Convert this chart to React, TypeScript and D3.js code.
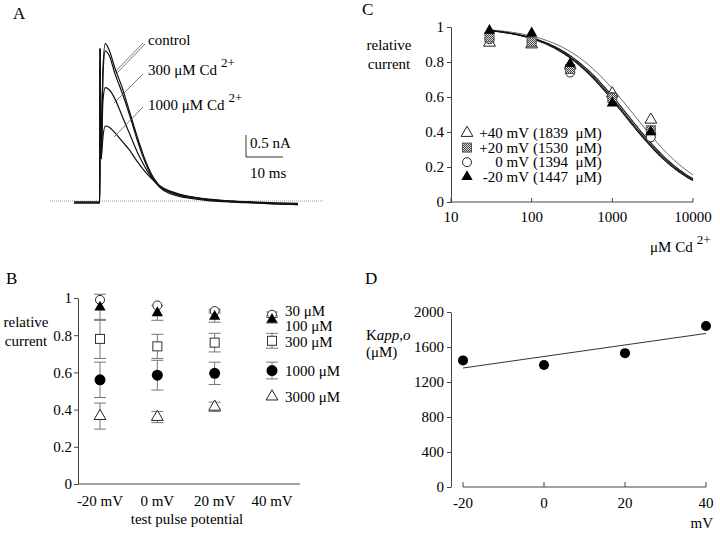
import { useEffect, useRef } from 'react';
import * as d3 from 'd3';

// ---- Panel A: current traces (nA) vs time (ms) after the test pulse ----
const traceTimes = [-7, -0.05, 0, 0.3, 0.8, 1.4, 2.5, 4, 6, 8, 10, 12, 14, 16, 19, 22, 26, 30, 36, 42, 48, 53.5];
const traceControl1 = [0, 0, 3.5, 1.0, 3.0, 3.6, 3.45, 3.05, 2.6, 2.05, 1.5, 1.0, 0.62, 0.38, 0.22, 0.14, 0.09, 0.05, 0.02, 0.0, -0.02, -0.03];
const traceControl2 = [0, 0, 3.5, 1.0, 2.9, 3.45, 3.35, 2.95, 2.5, 2.0, 1.45, 0.97, 0.6, 0.37, 0.21, 0.14, 0.09, 0.05, 0.02, 0.0, -0.02, -0.03];
const traceCd300 = [0, 0, 3.5, 1.0, 2.3, 2.6, 2.55, 2.35, 1.95, 1.55, 1.15, 0.82, 0.55, 0.36, 0.22, 0.15, 0.1, 0.06, 0.02, -0.01, -0.04, -0.06];
const traceCd1000 = [0, 0, 3.5, 1.0, 1.5, 1.75, 1.72, 1.6, 1.4, 1.2, 0.95, 0.73, 0.55, 0.4, 0.27, 0.19, 0.12, 0.07, 0.03, 0.0, -0.02, -0.04];

// ---- Panel B: relative current per test pulse potential ----
const pulseLabels = ['-20 mV', '0 mV', '20 mV', '40 mV'];
const concLabelsB = ['30 μM', '100 μM', '300 μM', '1000 μM', '3000 μM'];
const relB30 = [0.99, 0.96, 0.93, 0.91];
const relB100 = [0.95, 0.92, 0.9, 0.885];
const relB300 = [0.78, 0.74, 0.76, 0.77];
const relB1000 = [0.56, 0.585, 0.595, 0.61];
const relB3000 = [0.365, 0.36, 0.415, 0.47];
const errB30 = [0, 0, 0.01, 0.015];
const errB100 = [0.07, 0.04, 0.03, 0.02];
const errB300 = [0.105, 0.065, 0.05, 0.04];
const errB1000 = [0.095, 0.08, 0.06, 0.045];
const errB3000 = [0.07, 0.03, 0.025, 0];

// ---- Panel C: dose response ----
const cdConc = [30, 100, 300, 1000, 3000];
const relPlus40 = [0.91, 0.9, 0.78, 0.62, 0.47];
const relPlus20 = [0.94, 0.915, 0.76, 0.595, 0.41];
const relZero = [0.93, 0.92, 0.74, 0.6, 0.37];
const relMinus20 = [0.98, 0.965, 0.79, 0.565, 0.4];
const potLabelsC = ['+40 mV', '+20 mV', '0 mV', '-20 mV'];
const kdValues = [1839, 1530, 1394, 1447];
const concTicks = [10, 100, 1000, 10000];

// ---- Panel D: Kapp,o vs voltage ----
const voltagesD = [-20, 0, 20, 40];
const kappD = [1447, 1394, 1530, 1839];
const fitVoltages = [-20, 40];
const fitKapp = [1360, 1755];

const FONT = '"Liberation Serif", "Times New Roman", serif';

type Kind = 'circleOpen' | 'circleFilled' | 'triFilled' | 'triOpen' | 'squareOpen' | 'squareStipple';

function drawMarker(g: any, kind: Kind, x: number, y: number) {
  if (kind === 'circleOpen') {
    g.append('circle').attr('cx', x).attr('cy', y).attr('r', 4.5)
      .attr('fill', '#fff').attr('stroke', '#222').attr('stroke-width', 1);
  } else if (kind === 'circleFilled') {
    g.append('circle').attr('cx', x).attr('cy', y).attr('r', 5.5).attr('fill', '#000');
  } else if (kind === 'triFilled' || kind === 'triOpen') {
    g.append('path')
      .attr('transform', `translate(${x},${y})`)
      .attr('d', d3.symbol().type(d3.symbolTriangle).size(kind === 'triFilled' ? 55 : 60)())
      .attr('fill', kind === 'triFilled' ? '#000' : '#fff')
      .attr('stroke', kind === 'triFilled' ? 'none' : '#222')
      .attr('stroke-width', 1);
  } else {
    g.append('rect').attr('x', x - 4.5).attr('y', y - 4.5).attr('width', 9).attr('height', 9)
      .attr('fill', kind === 'squareStipple' ? 'url(#stipple)' : '#fff')
      .attr('stroke', kind === 'squareStipple' ? '#555' : '#333').attr('stroke-width', 1);
  }
}

function addText(g: any, x: number, y: number, txt: string, size = 15, anchor = 'start') {
  return g.append('text').attr('x', x).attr('y', y).attr('font-size', size)
    .attr('text-anchor', anchor).attr('fill', '#000').text(txt);
}

function withSup(g: any, x: number, y: number, main: string, sup: string, size = 15) {
  const t = g.append('text').attr('x', x).attr('y', y).attr('font-size', size).attr('fill', '#000');
  t.append('tspan').text(main);
  t.append('tspan').attr('dx', 4).attr('dy', -8).attr('font-size', 13).text(sup);
  return t;
}

function styleAxis(g: any) {
  g.attr('font-family', FONT).attr('font-size', 15).attr('color', '#444');
  g.selectAll('text').attr('fill', '#000');
}

export default function App() {
  const svgRef = useRef<SVGSVGElement>(null);

  useEffect(() => {
    if (!svgRef.current) return;
    const svg = d3.select(svgRef.current);
    svg.selectAll('*').remove();
    svg.attr('width', 720).attr('height', 535).style('font-family', FONT);
    svg.append('rect').attr('width', 720).attr('height', 535).attr('fill', '#fff');

    const defs = svg.append('defs');
    const pat = defs.append('pattern').attr('id', 'stipple')
      .attr('width', 2).attr('height', 2).attr('patternUnits', 'userSpaceOnUse');
    pat.append('rect').attr('width', 2).attr('height', 2).attr('fill', '#ddd');
    pat.append('rect').attr('width', 1).attr('height', 1).attr('fill', '#444');
    pat.append('rect').attr('x', 1).attr('y', 1).attr('width', 1).attr('height', 1).attr('fill', '#444');

    // Panel letters
    addText(svg, 13, 19, 'A', 17);
    addText(svg, 362, 15, 'C', 17);
    addText(svg, 6, 284, 'B', 17);
    addText(svg, 365, 284, 'D', 17);

    // ================= Panel A =================
    const gA = svg.append('g');
    const xA = d3.scaleLinear().domain([0, 10]).range([100, 137]);
    const yA = d3.scaleLinear().domain([0, 0.5]).range([202, 180]);

    gA.append('line').attr('x1', 50).attr('x2', 323).attr('y1', yA(0) - 1).attr('y2', yA(0) - 1)
      .attr('stroke', '#888').attr('stroke-width', 0.8).attr('stroke-dasharray', '1,1');

    const traceLine = d3.line<number>()
      .x((_, i) => xA(traceTimes[i]))
      .y((d) => yA(d))
      .curve(d3.curveMonotoneX);

    [traceControl1, traceControl2, traceCd300, traceCd1000].forEach((tr, k) => {
      gA.append('path').attr('d', traceLine(tr)).attr('fill', 'none')
        .attr('stroke', '#111').attr('stroke-width', 1.2)
        .attr('transform', `translate(0,${k % 2 === 0 ? 0 : 1})`);
    });

    // leader lines
    const leader = (x1: number, y1: number, x2: number, y2: number) =>
      gA.append('line').attr('x1', x1).attr('y1', y1).attr('x2', x2).attr('y2', y2)
        .attr('stroke', '#555').attr('stroke-width', 0.8);
    leader(143, 43, 115, 72);
    leader(145, 44, 117, 73);
    leader(143, 74, 114, 103);
    leader(143, 107, 114, 137);

    addText(gA, 148, 45, 'control');
    withSup(gA, 148, 75, '300 μM Cd', '2+');
    withSup(gA, 148, 110, '1000 μM Cd', '2+');

    // scale bar
    const sbX = 246;
    const sbY = 157;
    gA.append('path')
      .attr('d', `M${sbX},${sbY - (yA(0) - yA(0.5))}V${sbY}H${sbX + xA(10) - xA(0)}`)
      .attr('fill', 'none').attr('stroke', '#333').attr('stroke-width', 1);
    addText(gA, 250, 148, '0.5 nA');
    addText(gA, 250, 178, '10 ms');

    // ================= Panel B =================
    const gB = svg.append('g');
    const xB = d3.scalePoint<string>().domain(pulseLabels).range([100, 272]);
    const yB = d3.scaleLinear().domain([0, 1]).range([484, 298]);

    const yAxisB = gB.append('g').attr('transform', 'translate(78,0)')
      .call(d3.axisLeft(yB).tickValues([0, 0.2, 0.4, 0.6, 0.8, 1]).tickSize(4).tickSizeOuter(0)
        .tickPadding(2).tickFormat((d) => String(d)));
    styleAxis(yAxisB);

    gB.append('line').attr('x1', 78).attr('x2', 300).attr('y1', yB(0)).attr('y2', yB(0))
      .attr('stroke', '#444');
    pulseLabels.forEach((p) => addText(gB, xB(p)!, 506, p, 15, 'middle'));
    addText(gB, 187, 524, 'test pulse potential', 15, 'middle');
    addText(gB, 26, 327, 'relative', 15, 'middle');
    addText(gB, 26, 346, 'current', 15, 'middle');

    const seriesB = [
      { vals: relB30, errs: errB30, kind: 'circleOpen' as Kind },
      { vals: relB100, errs: errB100, kind: 'triFilled' as Kind },
      { vals: relB300, errs: errB300, kind: 'squareOpen' as Kind },
      { vals: relB1000, errs: errB1000, kind: 'circleFilled' as Kind },
      { vals: relB3000, errs: errB3000, kind: 'triOpen' as Kind },
    ];
    seriesB.forEach((s) => {
      s.vals.forEach((v, i) => {
        const e = s.errs[i];
        if (e <= 0) return;
        const x = xB(pulseLabels[i])!;
        gB.append('path')
          .attr('d', `M${x - 6},${yB(v + e)}H${x + 6}M${x},${yB(v + e)}V${yB(v - e)}M${x - 6},${yB(v - e)}H${x + 6}`)
          .attr('fill', 'none').attr('stroke', '#777').attr('stroke-width', 1);
      });
    });
    seriesB.forEach((s) => {
      s.vals.forEach((v, i) => drawMarker(gB, s.kind, xB(pulseLabels[i])!, yB(v)));
    });
    const legendBDy = [1, 12, 6, 5, 5];
    concLabelsB.forEach((lab, i) => {
      const v = seriesB[i].vals[3];
      addText(gB, 285, yB(v) + legendBDy[i], lab);
    });

    // ================= Panel C =================
    const gC = svg.append('g');
    const xC = d3.scaleLog().domain([10, 10000]).range([451, 693]);
    const yC = d3.scaleLinear().domain([0, 1]).range([202, 27]);

    const yAxisC = gC.append('g').attr('transform', 'translate(451,0)')
      .call(d3.axisLeft(yC).tickValues([0, 0.2, 0.4, 0.6, 0.8, 1]).tickSize(4).tickSizeOuter(0)
        .tickFormat((d) => String(d)));
    styleAxis(yAxisC);

    gC.append('line').attr('x1', xC(10)).attr('x2', xC(10000)).attr('y1', yC(0)).attr('y2', yC(0))
      .attr('stroke', '#444');
    concTicks.forEach((c) => {
      gC.append('line').attr('x1', xC(c)).attr('x2', xC(c)).attr('y1', yC(0)).attr('y2', yC(0) - 4)
        .attr('stroke', '#444');
      addText(gC, xC(c), 222, String(c), 15, 'middle');
    });
    withSup(gC, 650, 252, 'μM Cd', '2+');
    addText(gC, 389, 50, 'relative', 15, 'middle');
    addText(gC, 389, 69, 'current', 15, 'middle');

    // fitted Hill curves (n = 1) from the Kd values of the legend
    const concGrid = d3.range(0, 121).map((i) => 30 * Math.pow(10000 / 30, i / 120));
    kdValues.forEach((kd, k) => {
      const hill = d3.line<number>().x((c) => xC(c)).y((c) => yC(1 / (1 + c / kd)));
      gC.append('path').attr('d', hill(concGrid)).attr('fill', 'none')
        .attr('stroke', k === 0 ? '#555' : '#111').attr('stroke-width', k === 0 ? 0.9 : 1.1);
    });

    const seriesC = [
      { vals: relPlus40, kind: 'triOpen' as Kind },
      { vals: relZero, kind: 'circleOpen' as Kind },
      { vals: relPlus20, kind: 'squareStipple' as Kind },
      { vals: relMinus20, kind: 'triFilled' as Kind },
    ];
    seriesC.forEach((s) => s.vals.forEach((v, i) => drawMarker(gC, s.kind, xC(cdConc[i]), yC(v))));

    const legendKinds: Kind[] = ['triOpen', 'squareStipple', 'circleOpen', 'triFilled'];
    potLabelsC.forEach((lab, i) => {
      const ry = 133 + i * 14.6;
      drawMarker(gC, legendKinds[i], 467, ry);
      addText(gC, 529, ry + 5, lab, 15, 'end');
      addText(gC, 533, ry + 5, `(${kdValues[i]}\u00a0\u00a0μM)`);
    });

    // ================= Panel D =================
    const gD = svg.append('g');
    const xD = d3.scaleLinear().domain([-20, 40]).range([463, 706]);
    const yD = d3.scaleLinear().domain([0, 2000]).range([487, 312]);

    const yAxisD = gD.append('g').attr('transform', 'translate(451,0)')
      .call(d3.axisLeft(yD).tickValues([0, 400, 800, 1200, 1600, 2000]).tickSize(4).tickSizeOuter(0)
        .tickFormat((d) => String(d)));
    styleAxis(yAxisD);

    gD.append('line').attr('x1', xD(-20)).attr('x2', xD(40)).attr('y1', yD(0)).attr('y2', yD(0))
      .attr('stroke', '#444');
    voltagesD.forEach((v) => {
      gD.append('line').attr('x1', xD(v)).attr('x2', xD(v)).attr('y1', yD(0)).attr('y2', yD(0) - 5)
        .attr('stroke', '#444');
      addText(gD, xD(v), 508, String(v), 15, 'middle');
    });
    addText(gD, 713, 528, 'mV', 15, 'end');

    const kLabel = gD.append('text').attr('x', 366).attr('y', 340).attr('font-size', 15).attr('fill', '#000');
    kLabel.append('tspan').text('K');
    kLabel.append('tspan').attr('font-style', 'italic').text('app,o');
    addText(gD, 366, 357, '(μM)');

    const fit = d3.line<number>().x((_, i) => xD(fitVoltages[i])).y((d) => yD(d));
    gD.append('path').attr('d', fit(fitKapp)).attr('fill', 'none')
      .attr('stroke', '#333').attr('stroke-width', 1);

    kappD.forEach((k, i) => {
      gD.append('circle').attr('cx', xD(voltagesD[i])).attr('cy', yD(k)).attr('r', 5).attr('fill', '#000');
    });
  }, []);

  return (
    <div style={{ position: 'absolute', left: 0, top: 0, width: 720, height: 535, background: '#fff' }}>
      <svg ref={svgRef}></svg>
    </div>
  );
}
